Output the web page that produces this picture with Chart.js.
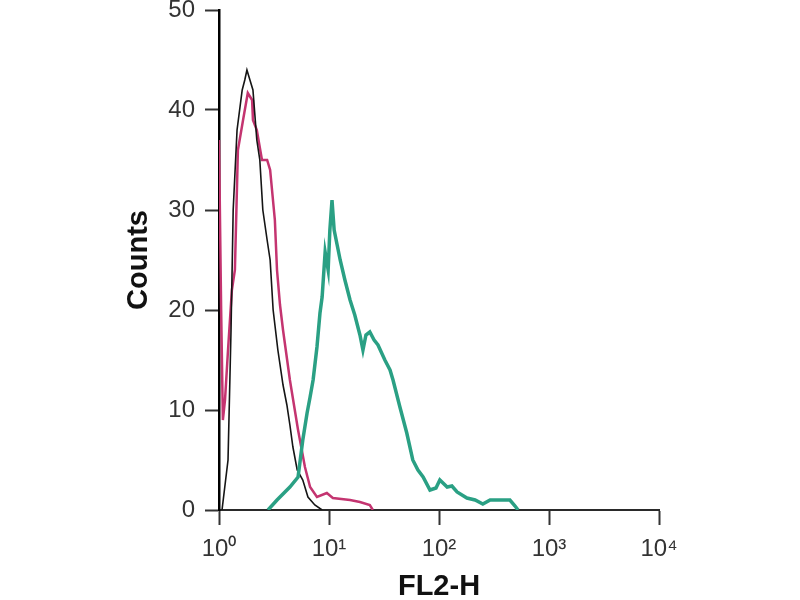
<!DOCTYPE html>
<html>
<head>
<meta charset="utf-8">
<script src="https://cdn.jsdelivr.net/npm/chart.js@4.4.1/dist/chart.umd.min.js"></script>
<style>
  html, body { margin:0; padding:0; background:#fff; }
  #wrap { width:800px; height:600px; }
</style>
</head>
<body>
<div id="wrap"><canvas id="facsChart" width="800" height="600"></canvas></div>
<script>
// FL2-H channel (0..1024 = 4 decades) and counts
const blackCh = [7, 21, 28, 33, 42, 54, 60, 65, 72, 79, 88, 95, 102, 112, 119, 126, 137, 149, 158, 165, 172, 182, 195, 207, 223, 240];
const blackCounts = [0, 5, 18, 30, 38, 42, 43, 44, 43, 42, 37, 35, 30, 27, 25, 20, 16, 12.5, 10.5, 8.5, 6.3, 4, 3, 1.3, 0.5, 0];

const magentaCh = [0, 2, 5, 9, 14, 21, 30, 37, 44, 56, 67, 77, 79, 88, 100, 112, 119, 130, 135, 142, 149, 165, 184, 200, 212, 228, 251, 265, 305, 328, 351, 358];
const magentaCounts = [37, 37, 20, 9, 11, 16, 22, 24, 36, 39, 41.7, 41, 39, 38, 35, 35, 34, 29, 24, 20.5, 18, 13, 8, 4.3, 2.3, 1.3, 1.7, 1.2, 1, 0.8, 0.5, 0];

const tealCh = [114, 135, 165, 184, 195, 205, 212, 219, 228, 235, 240, 247, 254, 258, 263, 268, 275, 282, 293, 305, 316, 328, 335, 342, 351, 361, 370, 386, 398, 405, 421, 437, 451, 463, 475, 491, 505, 514, 531, 542, 554, 577, 596, 614, 631, 677, 689, 696];
const tealCounts = [0, 1, 2.3, 3.3, 7, 9.7, 11.3, 13, 16.3, 19.7, 21.3, 25.8, 24, 28, 31, 28, 26.5, 25, 23, 21, 19.5, 17.5, 16, 17.5, 17.8, 17, 16.5, 15, 14, 13, 10.3, 7.7, 5, 4, 3.3, 2, 2.2, 3, 2.3, 2.4, 1.8, 1.2, 1, 0.6, 1, 1, 0.4, 0];

const xTicks = ['10\u2070', '10\u00b9', '10\u00b2', '10\u00b3', '10\u2074'];
const yTicks = [0, 10, 20, 30, 40, 50];

function pts(xs, ys){
  return xs.map((x, i) => ({ x: x, y: ys[i] }));
}

const tickFont = { family: '"Liberation Sans Narrow", "Liberation Sans", Arial, sans-serif', size: 24 };
const titleFont = { family: '"Liberation Sans", Arial, sans-serif', size: 29, weight: 'bold' };

new Chart(document.getElementById('facsChart'), {
  type: 'line',
  data: {
    datasets: [
      { label: 'stained', data: pts(tealCh, tealCounts), borderColor: 'rgb(42,160,132)', borderWidth: 3.5, pointRadius: 0, tension: 0 },
      { label: 'unstained', data: pts(blackCh, blackCounts), borderColor: '#151515', borderWidth: 1.6, pointRadius: 0, tension: 0 },
      { label: 'isotype', data: pts(magentaCh, magentaCounts), borderColor: 'rgb(196,52,112)', borderWidth: 2.5, pointRadius: 0, tension: 0 }
    ]
  },
  options: {
    responsive: false,
    animation: false,
    layout: { padding: { left: 0, right: 141, top: 10, bottom: 0 } },
    plugins: { legend: { display: false }, tooltip: { enabled: false } },
    scales: {
      x: {
        type: 'linear',
        min: 0,
        max: 1024,
        afterFit: function(s){ s.height = 90; s.paddingLeft = 0; s.paddingRight = 0; },
        afterBuildTicks: function(s){ s.ticks = [0, 256, 512, 768, 1024].map(v => ({ value: v })); },
        ticks: {
          color: '#333',
          font: tickFont,
          padding: 10,
          maxRotation: 0,
          callback: function(v){ return xTicks[Math.round(v / 256)]; }
        },
        grid: { display: true, drawOnChartArea: false, drawTicks: true, tickLength: 15, tickColor: '#333', tickWidth: 2 },
        border: { display: true, color: '#2a2a2a', width: 2 },
        title: { display: true, text: 'FL2-H', color: '#111', font: titleFont, padding: { top: 0, bottom: -4 } }
      },
      y: {
        min: 0,
        max: 50,
        afterFit: function(s){ s.width = 219; s.paddingTop = 0; s.paddingBottom = 0; },
        afterBuildTicks: function(s){ s.ticks = yTicks.map(v => ({ value: v })); },
        ticks: { color: '#333', font: tickFont, padding: 10 },
        grid: { display: true, drawOnChartArea: false, drawTicks: true, tickLength: 14, tickColor: '#333', tickWidth: 2 },
        border: { display: true, color: '#000', width: 2.5 },
        title: { display: true, text: 'Counts', color: '#111', font: titleFont, padding: { top: 122, bottom: 0 } }
      }
    }
  }
});
</script>
</body>
</html>
